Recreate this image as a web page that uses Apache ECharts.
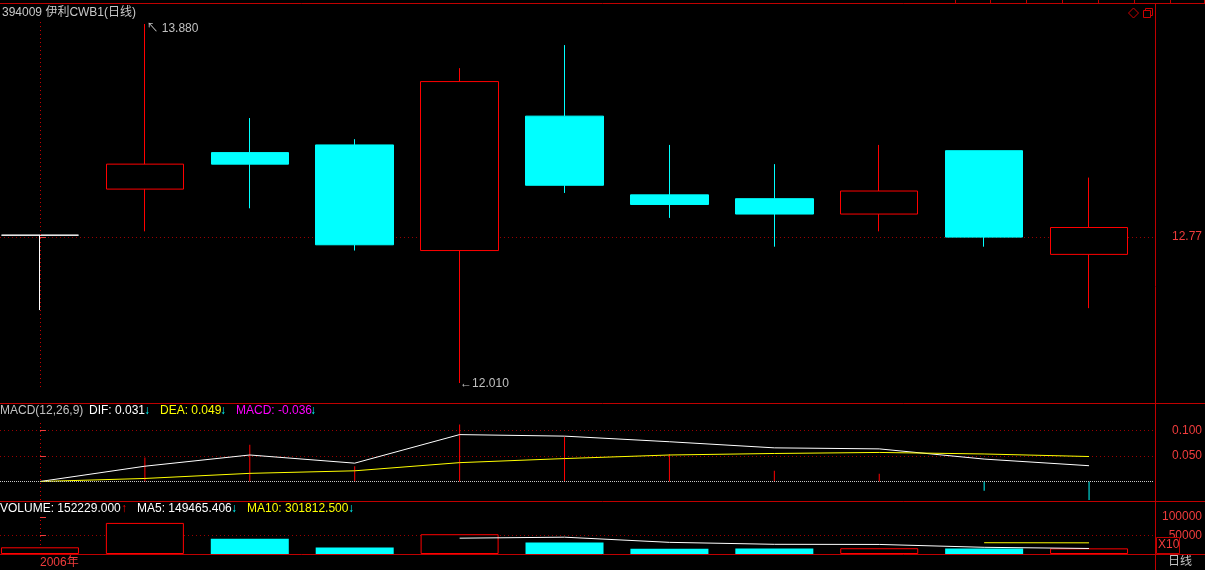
<!DOCTYPE html>
<html><head><meta charset="utf-8">
<script src="https://cdn.jsdelivr.net/npm/echarts@6/dist/echarts.min.js"></script>
<style>html,body{margin:0;padding:0;background:#000;overflow:hidden}#c{width:1205px;height:570px}</style>
</head><body><div id="c"></div>
<script>
// ---- data ----
const yearLabel = '2006年';
const open  = [12.78, 13.02, 13.21, 13.25, 12.70, 13.40, 12.99, 12.97, 12.89, 13.22, 12.68];
const close = [12.78, 13.15, 13.15, 12.73, 13.58, 13.04, 12.94, 12.89, 13.01, 12.77, 12.82];
const low   = [12.39, 12.80, 12.92, 12.70, 12.01, 13.00, 12.87, 12.72, 12.80, 12.72, 12.40];
const high  = [12.78, 13.88, 13.39, 13.28, 13.65, 13.77, 13.25, 13.15, 13.25, 13.22, 13.08];
const dif   = [0, 0.030, 0.052, 0.036, 0.092, 0.089, 0.078, 0.066, 0.064, 0.044, 0.031];
const dea   = [0, 0.006, 0.016, 0.021, 0.037, 0.045, 0.052, 0.055, 0.057, 0.054, 0.049];
const macd  = [0, 0.047, 0.072, 0.030, 0.112, 0.088, 0.054, 0.021, 0.015, -0.018, -0.036];
const volume = [181000, 840000, 410000, 175000, 535000, 310000, 145000, 146000, 156000, 148000, 152229];
const volMA5  = [null, null, null, null, 428200, 454000, 315000, 262200, 258400, 181000, 149465];
const volMA10 = [null, null, null, null, null, null, null, null, null, 304600, 301813];
const priceTicks = [12.77];
const macdTicks = [0.05, 0.1];
const volTicks = [500000, 1000000];
const headerText = '394009 伊利CWB1(日线)';

// ---- styling ----
const FONT = "'Liberation Sans', 'Noto Sans CJK SC', sans-serif";
const RED = '#ff0000', CYAN = '#00ffff', FRAME = '#c00000', GRID = '#990000', LBL = '#f03c3c';
const XMIN = -0.381, XMAX = 10.619;

const chart = echarts.init(document.getElementById('c'));
const idx = open.map((_, i) => i);
const divider = (y1, y2) => ({
  silent: true, symbol: ['none', 'none'], label: { show: false },
  lineStyle: { color: '#cc0000', type: [1, 3], width: 1 },
  data: [[{ coord: [0, y1] }, { coord: [0, y2] }]]
});
const hiddenX = g => ({ type: 'value', gridIndex: g, min: XMIN, max: XMAX, show: false });
const yAx = (g, min, max, ticks, fmt, splitColor) => ({
  type: 'value', gridIndex: g, min, max, position: 'right',
  axisLine: { show: false },
  axisTick: { show: true, length: 6, customValues: ticks, lineStyle: { color: LBL } },
  axisLabel: { customValues: ticks, formatter: fmt, align: 'right', margin: 48, color: LBL, fontSize: 12, fontFamily: FONT },
  splitLine: { show: true, lineStyle: { color: splitColor, type: [1, 3], width: 1 } }
});

const txt = (x, y, text, fill, extra) => Object.assign({
  type: 'text', x, y, silent: true,
  style: { text, fill, fontSize: 12, fontFamily: FONT, verticalAlign: 'middle' }
}, extra || {});
const ln = (x1, y1, x2, y2, stroke) => ({ type: 'line', silent: true, z: 50, shape: { x1, y1, x2, y2 }, style: { stroke: stroke || FRAME, lineWidth: 1 } });

const graphics = [
  ln(0, 3.5, 1205, 3.5), ln(1155.5, 3, 1155.5, 570),
  ln(0, 403.5, 1205, 403.5), ln(0, 501.5, 1205, 501.5), ln(0, 554.5, 1205, 554.5),
  txt(2, 13, headerText, '#c8c8c8'),
  txt(0, 411, 'MACD(12,26,9)', '#c0c0c0'),
  txt(89, 411, 'DIF: ' + dif[dif.length - 1].toFixed(3), '#ffffff'),
  txt(144, 411, '↓', CYAN),
  txt(160, 411, 'DEA: ' + dea[dea.length - 1].toFixed(3), '#ffff00'),
  txt(220, 411, '↓', CYAN),
  txt(236, 411, 'MACD: ' + macd[macd.length - 1].toFixed(3), '#ff00ff'),
  txt(310, 411, '↓', CYAN),
  txt(0, 509, 'VOLUME: 152229.000', '#ffffff'),
  txt(121, 509, '↑', RED),
  txt(137, 509, 'MA5: 149465.406', '#ffffff'),
  txt(231, 509, '↓', CYAN),
  txt(247, 509, 'MA10: 301812.500', '#ffff00'),
  txt(348, 509, '↓', CYAN),
  txt(1168, 562, '日线', '#c0c0c0'),
  { type: 'rect', silent: true, z: 60, shape: { x: 1156.5, y: 537.5, width: 23, height: 16 }, style: { fill: '#000', stroke: FRAME, lineWidth: 1 } },
  txt(1158, 545, 'X10', LBL, { z: 70 }),
  { type: 'polygon', silent: true, shape: { points: [[1133.5, 8], [1138.5, 13], [1133.5, 18], [1128.5, 13]] }, style: { fill: 'none', stroke: '#cc0000', lineWidth: 1 } },
  { type: 'rect', silent: true, shape: { x: 1145.5, y: 8.5, width: 7, height: 7 }, style: { fill: '#000', stroke: '#cc0000', lineWidth: 1 } },
  { type: 'rect', silent: true, shape: { x: 1143.5, y: 10.5, width: 7, height: 7 }, style: { fill: '#000', stroke: '#cc0000', lineWidth: 1 } }
];
[955, 990, 1026, 1062, 1098, 1134, 1170, 1204].forEach(x => graphics.push(ln(x + 0.5, 0, x + 0.5, 3)));

const option = {
  backgroundColor: '#000',
  animation: false,
  grid: [
    { left: 0, width: 1155, top: 4, height: 399 },
    { left: 0, width: 1155, top: 404, height: 97 },
    { left: 0, width: 1155, top: 502, height: 52 }
  ],
  xAxis: [
    hiddenX(0), hiddenX(1),
    { type: 'value', gridIndex: 2, min: XMIN, max: XMAX,
      axisLine: { show: false }, axisTick: { show: false }, splitLine: { show: false },
      axisLabel: { customValues: [0], formatter: () => yearLabel, align: 'left', margin: 3, color: LBL, fontSize: 12, fontFamily: FONT } }
  ],
  yAxis: [
    yAx(0, 11.906, 13.984, priceTicks, v => v.toFixed(2), GRID),
    yAx(1, -0.0382, 0.152, macdTicks, v => v.toFixed(3), GRID),
    yAx(2, 0, 1405405, volTicks, v => String(Math.round(v / 10)), [GRID, 'rgba(0,0,0,0)'])
  ],
  series: [
    { type: 'candlestick', xAxisIndex: 0, yAxisIndex: 0, barWidth: 78,
      data: idx.map(i => [i, open[i], close[i], low[i], high[i]]),
      itemStyle: { color: '#000', color0: CYAN, borderColor: RED, borderColor0: CYAN, borderColorDoji: '#ffffff', borderWidth: 1 },
      markLine: divider(13.89, 11.974),
      markPoint: {
        symbol: 'circle', symbolSize: 1, itemStyle: { color: 'rgba(0,0,0,0)' }, silent: true,
        data: [
          { type: 'max', valueDim: 'highest',
            label: { show: true, position: 'right', distance: 1, offset: [0, 5], color: '#c0c0c0', fontSize: 12, fontFamily: FONT,
              formatter: p => '↖ ' + Number(p.value).toFixed(3) } },
          { type: 'min', valueDim: 'lowest',
            label: { show: true, position: 'right', distance: 0, offset: [0, 1], color: '#c0c0c0', fontSize: 12, fontFamily: FONT,
              formatter: p => '←' + Number(p.value).toFixed(3) } }
        ]
      }
    },
    { type: 'bar', xAxisIndex: 1, yAxisIndex: 1, barWidth: 1,
      data: idx.map(i => ({ value: [i, macd[i]], itemStyle: { color: macd[i] >= 0 ? RED : CYAN } })),
      markLine: {
        silent: true, symbol: ['none', 'none'], label: { show: false },
        data: [
          { yAxis: 0, lineStyle: { color: '#c8c8c8', type: [1, 1], width: 1 } },
          [{ coord: [0, 0.1147], lineStyle: { color: '#cc0000', type: [1, 3], width: 1 } }, { coord: [0, -0.0363] }]
        ]
      }
    },
    { type: 'line', xAxisIndex: 1, yAxisIndex: 1, data: idx.map(i => [i, dif[i]]), showSymbol: false, lineStyle: { color: '#ffffff', width: 1 } },
    { type: 'line', xAxisIndex: 1, yAxisIndex: 1, data: idx.map(i => [i, dea[i]]), showSymbol: false, lineStyle: { color: '#ffff00', width: 1 } },
    { type: 'bar', xAxisIndex: 2, yAxisIndex: 2, barWidth: 78,
      data: idx.map(i => ({ value: [i, volume[i]],
        itemStyle: close[i] >= open[i] ? { color: '#000', borderColor: RED, borderWidth: 1 } : { color: CYAN, borderColor: CYAN, borderWidth: 0 } })),
      markLine: divider(918918, 243243)
    },
    { type: 'line', xAxisIndex: 2, yAxisIndex: 2, data: idx.map(i => [i, volMA5[i]]), showSymbol: false, lineStyle: { color: '#ffffff', width: 1 } },
    { type: 'line', xAxisIndex: 2, yAxisIndex: 2, data: idx.map(i => [i, volMA10[i]]), showSymbol: false, lineStyle: { color: '#ffff00', width: 1 } }
  ],
  graphic: graphics
};
chart.setOption(option);
</script></body></html>
